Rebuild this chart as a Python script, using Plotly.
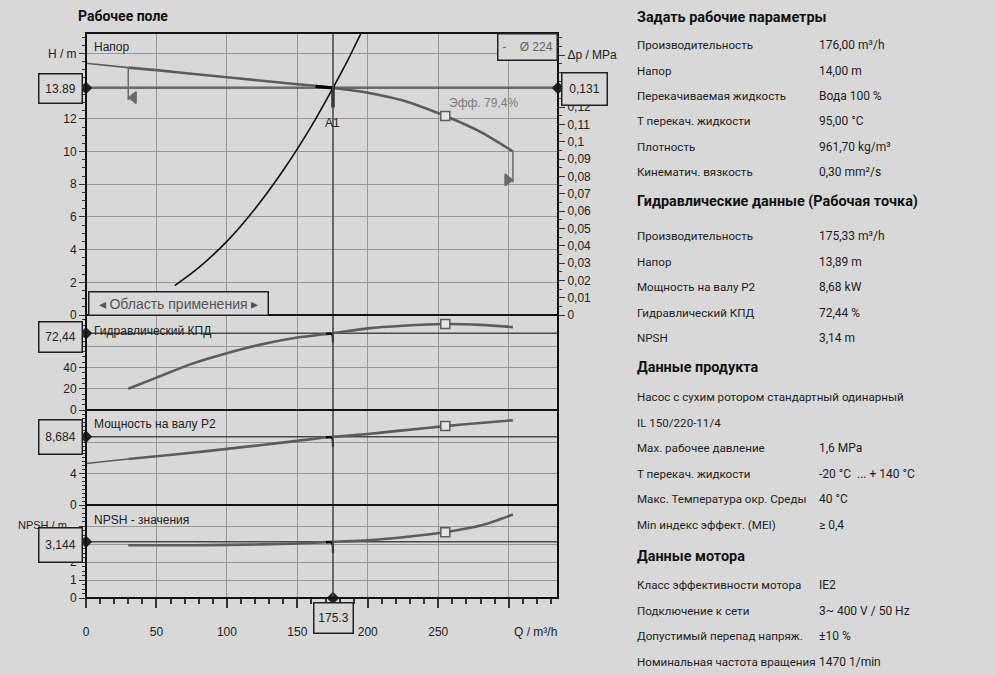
import plotly.graph_objects as go

# ---------------- pump characteristic (Q in m³/h) ----------------
q_head = [0, 30, 50, 75, 100, 125, 150, 175.3, 200, 225, 255, 280, 303]
h_head = [15.4, 15.13, 14.98, 14.76, 14.54, 14.33, 14.12, 13.89, 13.6, 13.12, 12.17, 11.2, 10.0]

q_sys = [63, 80, 100, 120, 140, 160, 175.3, 185, 195.3]
h_sys = [1.8, 2.9, 4.5, 6.5, 8.85, 11.55, 13.89, 15.45, 17.25]

q_eff = [30, 50, 75, 100, 125, 150, 175.3, 200, 225, 255, 280, 303]
eta = [20, 30.5, 43.5, 53.5, 62, 68.3, 72.44, 77, 79.5, 81.1, 80.3, 78.2]

q_p2 = [0, 30, 50, 75, 100, 125, 150, 175.3, 200, 225, 255, 280, 303]
p2 = [5.3, 5.85, 6.2, 6.65, 7.15, 7.65, 8.17, 8.684, 9.05, 9.5, 10.05, 10.45, 10.8]

q_npsh = [30, 50, 75, 100, 125, 150, 175.3, 200, 225, 255, 280, 303]
npsh = [2.95, 2.95, 2.95, 2.97, 3.0, 3.05, 3.144, 3.23, 3.4, 3.68, 4.05, 4.67]

# operating point A1, best efficiency point and flow limits
q_op, h_op, dp_op = 175.3, 13.89, 0.131
eta_op, p2_op, npsh_op = 72.44, 8.684, 3.144
q_bep = 255
q_min, q_max = 30, 303
h_min_mark, h_max_mark = 13.3, 8.26
eff_label = "Эфф. 79,4%"
impeller = "-    Ø 224"

# axis ticks (labels hidden where a value box sits on the axis)
x_ticks = [0, 50, 100, 150, 200, 250, 300]
x_labels = ["0", "50", "100", "150", "200", "250", ""]
h_ticks = [0, 2, 4, 6, 8, 10, 12, 14, 16]
h_labels = ["0", "2", "4", "6", "8", "10", "12", "", "H / m"]
dp_ticks = [0, 0.01, 0.02, 0.03, 0.04, 0.05, 0.06, 0.07, 0.08, 0.09, 0.1, 0.11, 0.12, 0.15]
dp_labels = ["0", "0,01", "0,02", "0,03", "0,04", "0,05", "0,06", "0,07", "0,08",
             "0,09", "0,1", "0,11", "0,12", "Δp / MPa"]
eta_ticks = [0, 20, 40, 60]
eta_labels = ["0", "20", "40", ""]
p2_ticks = [0, 4, 8]
p2_labels = ["0", "4", ""]
npsh_ticks = [0, 1, 2, 3, 4]
npsh_labels = ["0", "1", "2", "", ""]

# data sheet on the right
sections = [
    ("Задать рабочие параметры", [
        ("Производительность", "176,00 m³/h"),
        ("Напор", "14,00 m"),
        ("Перекачиваемая жидкость", "Вода 100 %"),
        ("T перекач. жидкости", "95,00 °C"),
        ("Плотность", "961,70 kg/m³"),
        ("Кинематич. вязкость", "0,30 mm²/s"),
    ]),
    ("Гидравлические данные (Рабочая точка)", [
        ("Производительность", "175,33 m³/h"),
        ("Напор", "13,89 m"),
        ("Мощность на валу P2", "8,68 kW"),
        ("Гидравлический КПД", "72,44 %"),
        ("NPSH", "3,14 m"),
    ]),
    ("Данные продукта", [
        ("Насос с сухим ротором стандартный одинарный", ""),
        ("IL 150/220-11/4", ""),
        ("Max. рабочее давление", "1,6 MPa"),
        ("T перекач. жидкости", "-20 °C  ... + 140 °C"),
        ("Макс. Температура окр. Среды", "40 °C"),
        ("Min индекс эффект. (MEI)", "≥ 0,4"),
    ]),
    ("Данные мотора", [
        ("Класс эффективности мотора", "IE2"),
        ("Подключение к сети", "3~ 400 V / 50 Hz"),
        ("Допустимый перепад напряж.", "±10 %"),
        ("Номинальная частота вращения", "1470 1/min"),
    ]),
]

# ---------------- styling ----------------
BG = "#d8d8d8"
GRID = "#979797"
CURVE = "#5c5c5c"
REF = "#4a4a4a"
NARROW = "Liberation Sans Narrow, Arial Narrow, Liberation Sans, sans-serif"
SHEET = "Roboto, Noto Sans, sans-serif"

W, H = 996, 675
L, R, T, B = 86, 558, 33, 598          # plot frame in pixels
X_END = 335
H_TOP = 17.25
RHO_G = 961.7 * 9.81 / 1e6              # MPa per metre of head


def px(x):
    return (x - L) / (R - L)


def py(y):
    return (B - y) / (B - T)


d_h = [py(315), 1.0]
d_eta = [py(410), py(315)]
d_p2 = [py(505), py(410)]
d_npsh = [0.0, py(505)]

fig = go.Figure()


def curve(x, y, axis, color=CURVE, width=2.6, shape="spline"):
    fig.add_trace(go.Scatter(x=x, y=y, xaxis="x", yaxis=axis, mode="lines",
                             line=dict(color=color, width=width, shape=shape, smoothing=0.8),
                             hoverinfo="skip", showlegend=False))


def points(x, y, axis, symbol, size, color, fill=None, lw=1.5):
    fig.add_trace(go.Scatter(x=x, y=y, xaxis="x", yaxis=axis, mode="markers",
                             marker=dict(symbol=symbol, size=size, color=fill or color,
                                         line=dict(color=color, width=lw)),
                             cliponaxis=False, hoverinfo="skip", showlegend=False))


# operating-point reference lines
curve([0, X_END], [h_op, h_op], "y", REF, 1.6, "linear")
curve([0, X_END], [eta_op, eta_op], "y3", REF, 1.6, "linear")
curve([0, X_END], [p2_op, p2_op], "y4", REF, 1.6, "linear")
curve([0, X_END], [npsh_op, npsh_op], "y5", REF, 1.6, "linear")

# head curve: thin below minimum flow, bold in the working range
i_min = q_head.index(q_min)
curve(q_head[:i_min + 1], h_head[:i_min + 1], "y", CURVE, 1.6)
curve(q_head[i_min:], h_head[i_min:], "y", CURVE, 2.6)
# system curve
curve(q_sys, h_sys, "y", "#111111", 1.6)

# min / max flow markers
curve([q_min, q_min], [h_head[i_min], h_min_mark - 0.15], "y", "#6a6a6a", 1.5, "linear")
points([q_min + 3.8], [h_min_mark], "y", "triangle-left", 10, "#6a6a6a")
curve([q_max, q_max], [h_head[-1], h_max_mark - 0.15], "y", "#6a6a6a", 1.5, "linear")
points([q_max - 3.8], [h_max_mark], "y", "triangle-right", 10, "#6a6a6a")

# efficiency, power, NPSH
curve(q_eff, eta, "y3")
i_p = q_p2.index(q_min)
curve(q_p2[:i_p + 1], p2[:i_p + 1], "y4", CURVE, 1.5)
curve(q_p2[i_p:], p2[i_p:], "y4")
curve(q_npsh, npsh, "y5")

# best efficiency point squares
sq = dict(symbol="square", size=9, color="#5c5c5c", fill="#e6e6e6", lw=1.5)
points([q_bep], [h_head[q_head.index(q_bep)]], "y", **sq)
points([q_bep], [eta[q_eff.index(q_bep)]], "y3", **sq)
points([q_bep], [p2[q_p2.index(q_bep)]], "y4", **sq)
points([q_bep], [npsh[q_npsh.index(q_bep)]], "y5", **sq)

# A1 marker on the head curve and hooks on the lower curves
i_op = q_head.index(q_op)
curve([q_head[i_op - 1] + 13, q_op, q_op], [h_head[i_op - 1] - 0.13, h_op, h_op - 1.2],
      "y", "#000000", 3.2, "linear")
for axis, val, drop in (("y3", eta_op, 9.0), ("y4", p2_op, 1.25), ("y5", npsh_op, 0.62)):
    curve([q_op - 5, q_op - 0.8, q_op], [val - drop * 0.05, val - drop * 0.1, val - drop],
          axis, "#000000", 2.2)

# diamonds where the reference lines meet the axes
dm = dict(symbol="diamond", size=8, color="#222222")
points([0], [h_op], "y", **dm)
points([X_END], [dp_op], "y2", **dm)
points([0], [eta_op], "y3", **dm)
points([0], [p2_op], "y4", **dm)
points([0], [npsh_op], "y5", **dm)
points([q_op], [0], "y5", **dm)

# vertical operating line through all panels
shapes = [dict(type="line", xref="x", yref="paper", x0=q_op, x1=q_op, y0=0, y1=1,
               line=dict(color=REF, width=1.6), layer="above")]
# panel frames
for d in (d_h, d_eta, d_p2, d_npsh):
    shapes.append(dict(type="rect", xref="paper", yref="paper", x0=0, x1=1, y0=d[0], y1=d[1],
                       line=dict(color="#111111", width=2), layer="above"))

tickfont = dict(family=NARROW, size=12, color="#222")


def yax(domain, rng, tv, tt, minor, grid=True, **kw):
    a = dict(domain=domain, range=rng, anchor="x", tickmode="array", tickvals=tv, ticktext=tt,
             ticks="outside", ticklen=6, tickwidth=1.2, tickcolor="#333", tickfont=tickfont,
             showgrid=grid, gridcolor=GRID, gridwidth=1, zeroline=False, showline=False,
             minor=dict(ticks="outside", ticklen=3, tickcolor="#333", tickmode="linear",
                        tick0=0, dtick=minor, showgrid=False),
             fixedrange=True)
    a.update(kw)
    return a


layout = dict(
    width=W, height=H, paper_bgcolor=BG, plot_bgcolor=BG,
    margin=dict(l=L, r=W - R, t=T, b=H - B),
    showlegend=False, shapes=shapes,
    xaxis=dict(domain=[0, 1], range=[0, X_END], anchor="y5", tickmode="array",
               tickvals=x_ticks, ticktext=x_labels, ticks="outside", ticklen=9, tickwidth=1.5,
               tickcolor="#333", tickfont=tickfont, ticklabelstandoff=14,
               showgrid=True, gridcolor=GRID, gridwidth=1, zeroline=False, showline=False,
               minor=dict(ticks="outside", ticklen=5, tickcolor="#333", tickmode="linear",
                          tick0=0, dtick=10, showgrid=False),
               fixedrange=True),
    yaxis=yax(d_h, [0, H_TOP], h_ticks, h_labels, 0.5),
    yaxis2=yax(d_h, [0, H_TOP * RHO_G], dp_ticks, dp_labels, 0.005, grid=False,
               overlaying="y", side="right"),
    yaxis3=yax(d_eta, [0, 89.6], eta_ticks, eta_labels, 5),
    yaxis4=yax(d_p2, [0, 12.1], p2_ticks, p2_labels, 0.5),
    yaxis5=yax(d_npsh, [0, 5.2], npsh_ticks, npsh_labels, 0.25),
)
fig.update_layout(**layout)

ann = []


def text(xp, yp, s, size=12, color="#222", family=NARROW, anchor="left", bold=False, **kw):
    a = dict(xref="paper", yref="paper", x=px(xp), y=py(yp), text=f"<b>{s}</b>" if bold else s,
             showarrow=False, xanchor=anchor, yanchor="middle",
             font=dict(family=family, size=size, color=color))
    a.update(kw)
    ann.append(a)


def box(cx, cy, s, w, h, color="#222", size=12):
    text(cx, cy, s, size=size, color=color, anchor="center", width=w, height=h,
         bordercolor="#222", borderwidth=1.5, borderpad=1, bgcolor=BG, align="center",
         valign="middle")


# chart title and panel captions
text(76, 16, "Рабочее поле", size=14, color="#111", family=SHEET, bold=True)
text(92, 47, "Напор", color="#222")
text(92, 331, "Гидравлический КПД", color="#222")
text(92, 424, "Мощность на валу P2", color="#222")
text(92, 520, "NPSH - значения", color="#222")
text(16, 525, "NPSH / m", size=11, color="#222")
text(535, 632, "Q / m³/h", anchor="center", color="#222")
ann.append(dict(xref="x", yref="y", x=q_op, y=11.75, text="A1", showarrow=False,
                font=dict(family=NARROW, size=12, color="#222")))
ann.append(dict(xref="x", yref="y", x=q_bep + 1, y=12.97, text=eff_label, showarrow=False,
                xanchor="left", font=dict(family=NARROW, size=12, color="#7a7a7a")))

# value boxes
box(60, 88, f"{h_op:.2f}", 40, 26)
box(584, 89, f"{dp_op:.3f}".replace(".", ","), 42, 29)
box(60, 337, f"{eta_op:.2f}".replace(".", ","), 40, 27)
box(60, 437, f"{p2_op:.3f}".replace(".", ","), 40, 31)
box(60, 545, f"{npsh_op:.3f}".replace(".", ","), 40, 31)
box(333, 618, f"{q_op:.1f}", 36, 27)
box(527, 47, impeller, 56, 23, color="#666")
box(178, 303, "◂ Область применения ▸", 176, 20, color="#555", size=14)

# data sheet
header_y = [17, 202, 367, 556]
first_gap = [28, 34, 30, 29]
step = 25.5
for (title, rows), hy, gap in zip(sections, header_y, first_gap):
    text(635, hy, title, size=14.4, color="#111", family=SHEET, bold=True)
    for i, (k, v) in enumerate(rows):
        y = hy + gap + i * step
        text(635, y, k, size=11.6, color="#1e1e1e", family=SHEET)
        if v:
            text(817, y, v, size=12, color="#1e1e1e", family=SHEET)

fig.update_layout(annotations=ann)
fig.write_html("out.html")
